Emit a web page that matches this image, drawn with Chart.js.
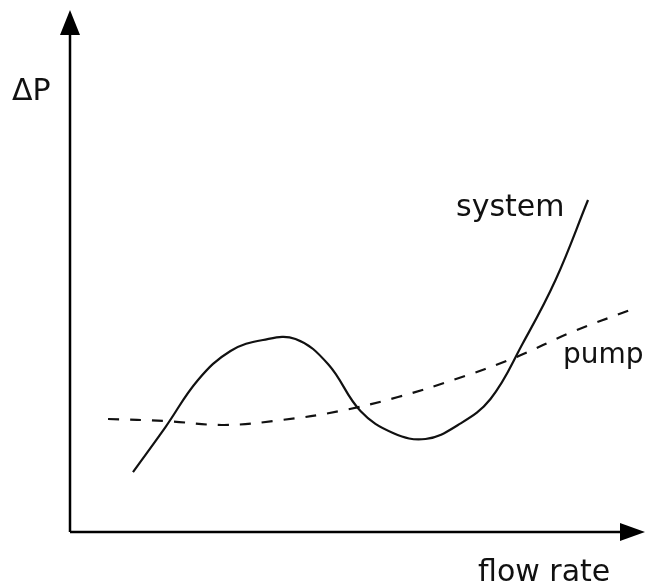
<!DOCTYPE html>
<html>
<head>
<meta charset="utf-8">
<script src="https://cdn.jsdelivr.net/npm/chart.js@4"></script>
<style>
    html, body { margin: 0; padding: 0; background: #fff; }
    #wrap { width: 647px; height: 585px; }
</style>
</head>
<body>
<div id="wrap"><canvas id="chart" width="647" height="585"></canvas></div>
<script>
// flow rate (x) / pressure difference (y), arbitrary units 0-100
const systemX = [11.05, 16.75, 22.46, 28.16, 33.86, 39.56, 45.26, 50.96, 56.67, 62.37, 68.07, 73.77, 79.47, 85.18, 90.88];
const systemY = [11.49, 20.10, 29.12, 34.67, 36.78, 36.97, 32.18, 23.18, 18.97, 17.82, 20.50, 25.48, 36.21, 48.28, 63.60];
const pumpX = [6.67, 16.84, 27.02, 37.19, 47.37, 57.54, 67.72, 77.89, 88.07, 98.25];
const pumpY = [21.65, 21.26, 20.50, 21.46, 23.18, 25.86, 29.31, 33.33, 38.31, 42.53];

const labelFont = '30px "DejaVu Sans", sans-serif';

const toPoints = (xs, ys) => xs.map((x, i) => ({ x, y: ys[i] }));

// axes with arrow heads plus the text labels
const axesPlugin = {
    id: 'axes',
    afterDraw(chart) {
        const ctx = chart.ctx;
        const a = chart.chartArea;
        const x0 = a.left, y0 = a.bottom;
        ctx.save();
        ctx.strokeStyle = '#000';
        ctx.fillStyle = '#000';
        ctx.lineWidth = 2.5;
        ctx.beginPath();
        ctx.moveTo(x0, y0);
        ctx.lineTo(x0, a.top + 20);
        ctx.moveTo(x0, y0);
        ctx.lineTo(a.right - 20, y0);
        ctx.stroke();

        // up arrow
        ctx.beginPath();
        ctx.moveTo(x0, a.top);
        ctx.lineTo(x0 + 10, a.top + 25);
        ctx.lineTo(x0 - 10, a.top + 25);
        ctx.closePath();
        ctx.fill();
        // right arrow
        ctx.beginPath();
        ctx.moveTo(a.right + 5, y0);
        ctx.lineTo(a.right - 20, y0 - 9);
        ctx.lineTo(a.right - 20, y0 + 9);
        ctx.closePath();
        ctx.fill();

        ctx.font = labelFont;
        ctx.fillStyle = '#111';
        ctx.textBaseline = 'alphabetic';
        ctx.textAlign = 'left';
        ctx.fillText('ΔP', 12, 100);
        ctx.fillText('flow rate', 478, 581);
        ctx.fillText('system', 456, 216);
        ctx.font = '28px "DejaVu Sans", sans-serif';
        ctx.fillText('pump', 563, 363);
        ctx.restore();
    }
};

new Chart(document.getElementById('chart'), {
    type: 'scatter',
    data: {
        datasets: [
            {
                label: 'system',
                data: toPoints(systemX, systemY),
                showLine: true,
                borderColor: '#111',
                borderWidth: 2.2,
                pointRadius: 0,
                tension: 0.4,
                fill: false
            },
            {
                label: 'pump',
                data: toPoints(pumpX, pumpY),
                showLine: true,
                borderColor: '#111',
                borderWidth: 2.2,
                borderDash: [11, 11],
                pointRadius: 0,
                tension: 0.4,
                fill: false
            }
        ]
    },
    options: {
        responsive: false,
        animation: false,
        layout: { padding: { left: 70, right: 7, top: 10, bottom: 53 } },
        plugins: {
            legend: { display: false },
            tooltip: { enabled: false }
        },
        scales: {
            x: { type: 'linear', min: 0, max: 100, display: false },
            y: { type: 'linear', min: 0, max: 100, display: false }
        }
    },
    plugins: [axesPlugin]
});
</script>
</body>
</html>
